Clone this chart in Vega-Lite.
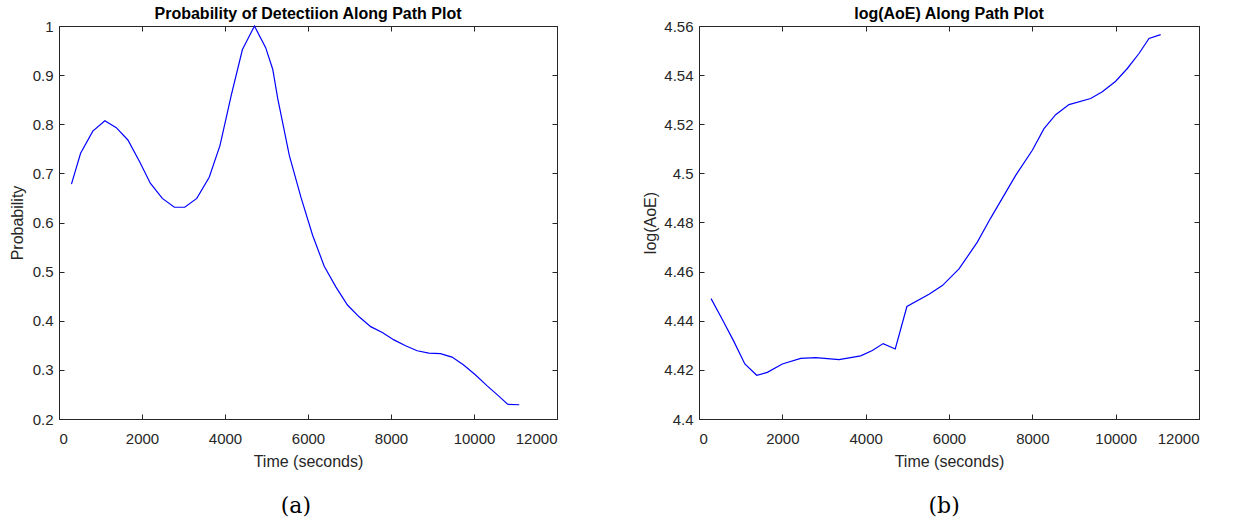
{
  "$schema": "https://vega.github.io/schema/vega-lite/v6.json",
  "background": "white",
  "padding": {"left": 8, "top": 5, "right": 5, "bottom": 3},
  "datasets": {
    "pod": [
      {"t": 300, "p": 0.678}, {"t": 520, "p": 0.741}, {"t": 815, "p": 0.786}, {"t": 1105, "p": 0.807},
      {"t": 1380, "p": 0.793}, {"t": 1660, "p": 0.768}, {"t": 1940, "p": 0.724}, {"t": 2200, "p": 0.680},
      {"t": 2490, "p": 0.649}, {"t": 2780, "p": 0.631}, {"t": 3030, "p": 0.631}, {"t": 3320, "p": 0.649},
      {"t": 3620, "p": 0.692}, {"t": 3880, "p": 0.757}, {"t": 4150, "p": 0.859}, {"t": 4420, "p": 0.952},
      {"t": 4710, "p": 1.0}, {"t": 4980, "p": 0.956}, {"t": 5150, "p": 0.912}, {"t": 5271, "p": 0.852},
      {"t": 5551, "p": 0.736}, {"t": 5831, "p": 0.651}, {"t": 6111, "p": 0.574}, {"t": 6391, "p": 0.511},
      {"t": 6671, "p": 0.469}, {"t": 6951, "p": 0.432}, {"t": 7231, "p": 0.408}, {"t": 7511, "p": 0.388},
      {"t": 7791, "p": 0.376}, {"t": 8071, "p": 0.361}, {"t": 8351, "p": 0.349}, {"t": 8631, "p": 0.339},
      {"t": 8911, "p": 0.334}, {"t": 9191, "p": 0.333}, {"t": 9471, "p": 0.326}, {"t": 9751, "p": 0.310},
      {"t": 10031, "p": 0.290}, {"t": 10311, "p": 0.268}, {"t": 10591, "p": 0.247}, {"t": 10810, "p": 0.230},
      {"t": 11090, "p": 0.229}
    ],
    "aoe": [
      {"t": 290, "v": 4.449}, {"t": 560, "v": 4.4405}, {"t": 830, "v": 4.4318}, {"t": 1100, "v": 4.4224},
      {"t": 1385, "v": 4.4178}, {"t": 1640, "v": 4.419}, {"t": 2000, "v": 4.4224}, {"t": 2440, "v": 4.4247},
      {"t": 2800, "v": 4.425}, {"t": 3360, "v": 4.4242}, {"t": 3880, "v": 4.4257}, {"t": 4160, "v": 4.4279},
      {"t": 4420, "v": 4.4307}, {"t": 4710, "v": 4.4285}, {"t": 4990, "v": 4.4458}, {"t": 5520, "v": 4.4508},
      {"t": 5840, "v": 4.4543}, {"t": 6240, "v": 4.4611}, {"t": 6680, "v": 4.472}, {"t": 7000, "v": 4.4818},
      {"t": 7600, "v": 4.4992}, {"t": 8000, "v": 4.5094}, {"t": 8280, "v": 4.5182}, {"t": 8560, "v": 4.5239},
      {"t": 8880, "v": 4.528}, {"t": 9400, "v": 4.5305}, {"t": 9680, "v": 4.5332}, {"t": 10000, "v": 4.5375},
      {"t": 10280, "v": 4.5427}, {"t": 10560, "v": 4.5488}, {"t": 10800, "v": 4.5549}, {"t": 11080, "v": 4.5565}
    ]
  },
  "config": {
    "view": {"stroke": "#262626", "strokeWidth": 1},
    "axis": {
      "grid": false,
      "minExtent": 0,
      "domainColor": "#262626",
      "tickColor": "#262626",
      "tickSize": -5,
      "labelColor": "#262626",
      "labelFont": "Liberation Sans",
      "labelFontSize": 15,
      "titleFont": "Liberation Sans",
      "titleFontSize": 16,
      "titleFontWeight": "normal",
      "titleColor": "#262626"
    },
    "axisX": {"labelPadding": 17.5, "titlePadding": 7, "minExtent": 0},
    "axisY": {"labelPadding": 11, "titlePadding": 7, "minExtent": 0},
    "title": {"font": "Liberation Sans", "fontSize": 16, "fontWeight": "bold", "color": "#000000"}
  },
  "hconcat": [
    {
      "vconcat": [
        {
          "width": 498,
          "height": 393,
          "title": {"text": "Probability of Detectiion Along Path Plot", "baseline": "alphabetic", "offset": -15.5},
          "data": {"name": "pod"},
          "resolve": {"axis": {"x": "independent", "y": "independent"}},
          "layer": [
            {
              "mark": {"type": "line", "color": "#0000ff", "strokeWidth": 1.2},
              "encoding": {
                "x": {"field": "t", "type": "quantitative", "scale": {"domain": [0, 12000], "nice": false},
                      "axis": {"title": "Time (seconds)", "values": [0, 2000, 4000, 6000, 8000, 10000, 12000], "format": "d"}},
                "y": {"field": "p", "type": "quantitative", "scale": {"domain": [0.2, 1], "nice": false, "zero": false},
                      "axis": {"title": "Probability", "values": [0.2, 0.3, 0.4, 0.5, 0.6, 0.7, 0.8, 0.9, 1], "format": "~g"}}
              }
            },
            {
              "mark": {"type": "line", "opacity": 0},
              "encoding": {
                "x": {"field": "t", "type": "quantitative", "scale": {"domain": [0, 12000], "nice": false},
                      "axis": {"orient": "top", "title": null, "labels": false, "labelPadding": 0, "titlePadding": 0, "minExtent": 0, "values": [0, 2000, 4000, 6000, 8000, 10000, 12000]}},
                "y": {"field": "p", "type": "quantitative", "scale": {"domain": [0.2, 1], "nice": false, "zero": false},
                      "axis": {"orient": "right", "title": null, "labels": false, "labelPadding": 0, "titlePadding": 0, "minExtent": 0, "values": [0.2, 0.3, 0.4, 0.5, 0.6, 0.7, 0.8, 0.9, 1]}}
              }
            }
          ]
        }
      ],
      "title": {"text": "(a)", "orient": "bottom", "anchor": "middle", "dx": 12.5, "font": "DejaVu Serif", "fontSize": 22, "fontWeight": "normal", "color": "#000000", "offset": 26}
    },
    {
      "vconcat": [
        {
          "width": 500,
          "height": 393,
          "title": {"text": "log(AoE) Along Path Plot", "baseline": "alphabetic", "offset": -15.5},
          "data": {"name": "aoe"},
          "resolve": {"axis": {"x": "independent", "y": "independent"}},
          "layer": [
            {
              "mark": {"type": "line", "color": "#0000ff", "strokeWidth": 1.2},
              "encoding": {
                "x": {"field": "t", "type": "quantitative", "scale": {"domain": [0, 12000], "nice": false},
                      "axis": {"title": "Time (seconds)", "values": [0, 2000, 4000, 6000, 8000, 10000, 12000], "format": "d"}},
                "y": {"field": "v", "type": "quantitative", "scale": {"domain": [4.4, 4.56], "nice": false, "zero": false},
                      "axis": {"title": "log(AoE)", "titlePadding": 5, "values": [4.4, 4.42, 4.44, 4.46, 4.48, 4.5, 4.52, 4.54, 4.56], "format": "~g"}}
              }
            },
            {
              "mark": {"type": "line", "opacity": 0},
              "encoding": {
                "x": {"field": "t", "type": "quantitative", "scale": {"domain": [0, 12000], "nice": false},
                      "axis": {"orient": "top", "title": null, "labels": false, "labelPadding": 0, "titlePadding": 0, "minExtent": 0, "values": [0, 2000, 4000, 6000, 8000, 10000, 12000]}},
                "y": {"field": "v", "type": "quantitative", "scale": {"domain": [4.4, 4.56], "nice": false, "zero": false},
                      "axis": {"orient": "right", "title": null, "labels": false, "labelPadding": 0, "titlePadding": 0, "minExtent": 0, "values": [4.4, 4.42, 4.44, 4.46, 4.48, 4.5, 4.52, 4.54, 4.56]}}
              }
            }
          ]
        }
      ],
      "title": {"text": "(b)", "orient": "bottom", "anchor": "middle", "dx": 23, "font": "DejaVu Serif", "fontSize": 22, "fontWeight": "normal", "color": "#000000", "offset": 26}
    }
  ],
  "spacing": 84
}
